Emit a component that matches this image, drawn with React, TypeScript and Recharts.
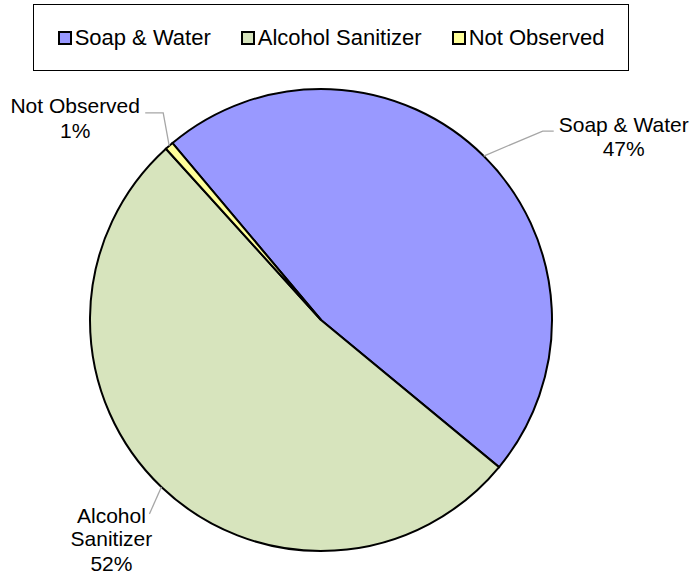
import { PieChart, Pie, Cell } from 'recharts';

const categories = ['Soap & Water', 'Alcohol Sanitizer', 'Not Observed'];
const shares = [47.1, 52.3, 0.6];
const colors = ['#9999FF', '#D7E4BD', '#FFFF99'];

const data = categories.map((name, i) => ({ name, value: shares[i] }));

// leader line / label layout per slice, relative to the slice's edge point
const labelLayout: Record<string, { path: number[][]; tx: number; lines: number[] }> = {
  'Soap & Water': { path: [[59, -25], [70, -25]], tx: 140, lines: [-24, 0] },
  'Alcohol Sanitizer': { path: [[-12, 27]], tx: -50, lines: [36, 59, 84] },
  'Not Observed': { path: [[-6, -33], [-24, -33]], tx: -94, lines: [-33, -8] },
};

const labelText: Record<string, string[]> = {
  'Soap & Water': ['Soap & Water'],
  'Alcohol Sanitizer': ['Alcohol', 'Sanitizer'],
  'Not Observed': ['Not Observed'],
};

const RAD = Math.PI / 180;

const renderLabel = (props: any) => {
  const { cx, cy, midAngle, outerRadius, name, percent } = props;
  const ex = cx + outerRadius * Math.cos(-midAngle * RAD);
  const ey = cy + outerRadius * Math.sin(-midAngle * RAD);
  const layout = labelLayout[name];
  const pts = [[ex, ey], ...layout.path.map(([dx, dy]) => [ex + dx, ey + dy])];
  const rows = [...labelText[name], `${Math.round(percent * 100)}%`];
  return (
    <g>
      <polyline
        points={pts.map(p => p.join(',')).join(' ')}
        fill="none"
        stroke="#A6A6A6"
        strokeWidth={1.3}
      />
      {rows.map((row, i) => (
        <text
          key={i}
          x={ex + layout.tx}
          y={ey + layout.lines[i]}
          textAnchor="middle"
          fill="#000"
          fontSize={21}
          fontFamily="'Liberation Sans', Arial, sans-serif"
        >
          {row}
        </text>
      ))}
    </g>
  );
};

function LegendBox() {
  return (
    <div
      style={{
        position: 'absolute',
        left: 33,
        top: 4,
        width: 596,
        height: 67,
        border: '1px solid #000',
        boxSizing: 'border-box',
        display: 'flex',
        alignItems: 'center',
        justifyContent: 'center',
        gap: 30,
        fontFamily: "'Liberation Sans', Arial, sans-serif",
        fontSize: 22,
        color: '#000',
        background: '#fff',
      }}
    >
      {categories.map((name, i) => (
        <div key={name} style={{ display: 'flex', alignItems: 'center' }}>
          <span
            style={{
              display: 'inline-block',
              width: 10,
              height: 10,
              border: '2px solid #000',
              background: colors[i],
              marginRight: 3,
            }}
          />
          <span>{name}</span>
        </div>
      ))}
    </div>
  );
}

export default function App() {
  return (
    <div style={{ position: 'absolute', left: 0, top: 0, width: 694, height: 576, background: '#fff' }}>
      <PieChart width={694} height={576} margin={{ top: 0, right: 0, bottom: 0, left: 0 }}>
        <Pie
          data={data}
          dataKey="value"
          nameKey="name"
          cx={321}
          cy={320}
          outerRadius={231}
          startAngle={130}
          endAngle={-230}
          stroke="#000"
          strokeWidth={2}
          label={renderLabel}
          labelLine={false}
          isAnimationActive={false}
        >
          {data.map((d, i) => (
            <Cell key={d.name} fill={colors[i]} />
          ))}
        </Pie>
      </PieChart>
      <LegendBox />
    </div>
  );
}
